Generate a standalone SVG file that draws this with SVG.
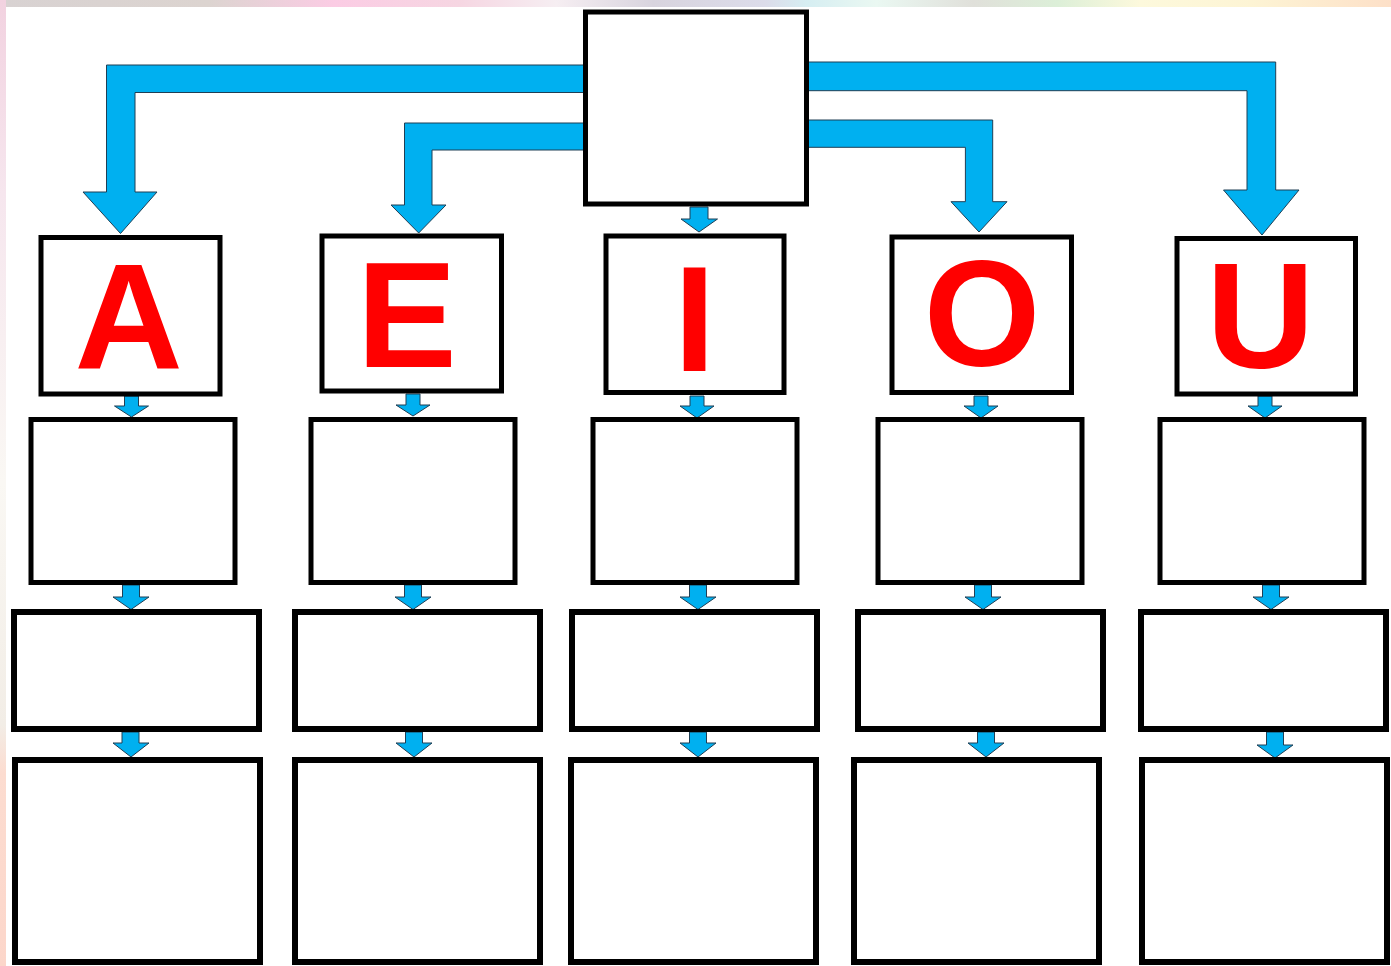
<svg xmlns="http://www.w3.org/2000/svg" width="1391" height="966" viewBox="0 0 1391 966">
  <defs>
    <linearGradient id="topStrip" x1="0" y1="0" x2="1" y2="0">
      <stop offset="0" stop-color="#d8d2d2"/>
      <stop offset="0.15" stop-color="#dcd4d0"/>
      <stop offset="0.24" stop-color="#fbcce4"/>
      <stop offset="0.33" stop-color="#f6d6e2"/>
      <stop offset="0.4" stop-color="#f6eef2"/>
      <stop offset="0.47" stop-color="#d8d4de"/>
      <stop offset="0.55" stop-color="#dcdcea"/>
      <stop offset="0.58" stop-color="#d6eef2"/>
      <stop offset="0.63" stop-color="#eaf8f2"/>
      <stop offset="0.7" stop-color="#e0e0da"/>
      <stop offset="0.76" stop-color="#dcefd8"/>
      <stop offset="0.82" stop-color="#fdf9dc"/>
      <stop offset="0.9" stop-color="#fdf4d4"/>
      <stop offset="1" stop-color="#fde0c8"/>
    </linearGradient>
    <linearGradient id="leftStrip" x1="0" y1="0" x2="0" y2="1">
      <stop offset="0" stop-color="#f2d2e0"/>
      <stop offset="0.2" stop-color="#f6e6ee"/>
      <stop offset="0.5" stop-color="#faf8f4"/>
      <stop offset="0.75" stop-color="#f2ede6"/>
      <stop offset="0.8" stop-color="#fcdcd0"/>
      <stop offset="1" stop-color="#fcd6ca"/>
    </linearGradient>
  </defs>
  <style>
    .box { fill: #ffffff; stroke: #000000; stroke-width: 5; }
    .boxw { fill: #ffffff; stroke: #000000; stroke-width: 6; }
    .arrow { fill: #00b0f0; stroke: #1f3f55; stroke-width: 1; stroke-linejoin: miter; }
    .letter { font-family: "Liberation Sans", Arial, sans-serif; font-weight: bold; font-size: 150px; fill: #ff0000; text-anchor: middle; }
  </style>

  <rect x="0" y="0" width="1391" height="966" fill="#ffffff"/>
  <rect x="0" y="0" width="1391" height="7" fill="url(#topStrip)"/>
  <rect x="0" y="0" width="6" height="966" fill="url(#leftStrip)"/>

  <g id="connectors">
    <polygon class="arrow" points="586,65 106.5,65 106.5,192 83,192 120.5,233.5 157,192 135,192 135,92.5 586,92.5"/>
    <polygon class="arrow" points="586,123 404.5,123 404.5,205 391,205 418.7,233 446,205 432,205 432,150 586,150"/>
    <polygon class="arrow" points="806,120 992.7,120 992.7,201.7 1007,201.7 979,232 951,201.7 965.4,201.7 965.4,147.3 806,147.3"/>
    <polygon class="arrow" points="806,62 1275.7,62 1275.7,190 1299,190 1262,235 1223.5,190 1247,190 1247,90.7 806,90.7"/>

    <polygon class="arrow" points="690,207 708,207 708,219 717.5,219 699,232 681,219 690,219"/>

    <polygon class="arrow" points="124.5,396 138.5,396 138.5,406 148.5,406 131.5,417 114.5,406 124.5,406"/>
    <polygon class="arrow" points="406,394 420,394 420,405 430,405 413,416 396,405 406,405"/>
    <polygon class="arrow" points="690,396 704,396 704,406 714,406 697,418 680,406 690,406"/>
    <polygon class="arrow" points="974,396 988,396 988,406 998,406 981,418 964,406 974,406"/>
    <polygon class="arrow" points="1258,396 1272,396 1272,406 1282,406 1265,418 1248,406 1258,406"/>

    <polygon class="arrow" points="122.5,585 139.5,585 139.5,597 149,597 131,609.5 113,597 122.5,597"/>
    <polygon class="arrow" points="404.5,585 421.5,585 421.5,597 431,597 413,609.5 395,597 404.5,597"/>
    <polygon class="arrow" points="689.5,585 706.5,585 706.5,597 716,597 698,609.5 680,597 689.5,597"/>
    <polygon class="arrow" points="974.5,585 991.5,585 991.5,597 1001,597 983,609.5 965,597 974.5,597"/>
    <polygon class="arrow" points="1262.5,585 1279.5,585 1279.5,597 1289,597 1271,609.5 1253,597 1262.5,597"/>

    <polygon class="arrow" points="122,732 139,732 139,743 149,743 131,757 113,743 122,743"/>
    <polygon class="arrow" points="405.5,732 422.5,732 422.5,743 432,743 414,757 396,743 405.5,743"/>
    <polygon class="arrow" points="689.5,732 706.5,732 706.5,743 716,743 698,757 680,743 689.5,743"/>
    <polygon class="arrow" points="977.5,732 994.5,732 994.5,743 1004,743 986,757 968,743 977.5,743"/>
    <polygon class="arrow" points="1266.5,732 1283.5,732 1283.5,745 1293,745 1275,758 1257,745 1266.5,745"/>
  </g>

  <g id="top"><rect class="box" x="585.5" y="12" width="221" height="192"/></g>

  <g id="vowel-a"><rect class="box" x="41" y="237.5" width="179" height="156.5"/><text class="letter" x="128.7" y="367.5">A</text></g>
  <g id="vowel-e"><rect class="box" x="322" y="236" width="179.5" height="155"/><text class="letter" x="406.7" y="366.5">E</text></g>
  <g id="vowel-i"><rect class="box" x="606" y="236" width="178" height="156.5"/><text class="letter" x="694.5" y="371">I</text></g>
  <g id="vowel-o"><rect class="box" x="892" y="237" width="179.5" height="155.5"/><text class="letter" x="982" y="366">O</text></g>
  <g id="vowel-u"><rect class="box" x="1177" y="238.5" width="178.5" height="155.5"/><text class="letter" x="1260.5" y="368">U</text></g>

  <g id="a-2"><rect class="box" x="31" y="419.5" width="204" height="163"/></g>
  <g id="e-2"><rect class="box" x="311" y="419.5" width="204" height="163"/></g>
  <g id="i-2"><rect class="box" x="593" y="419.5" width="204" height="163"/></g>
  <g id="o-2"><rect class="box" x="878" y="419.5" width="204" height="163"/></g>
  <g id="u-2"><rect class="box" x="1160" y="419.5" width="204" height="163"/></g>

  <g id="a-3"><rect class="boxw" x="14" y="612" width="245" height="117"/></g>
  <g id="e-3"><rect class="boxw" x="295" y="612" width="245" height="117"/></g>
  <g id="i-3"><rect class="boxw" x="572" y="612" width="245" height="117"/></g>
  <g id="o-3"><rect class="boxw" x="858" y="612" width="245" height="117"/></g>
  <g id="u-3"><rect class="boxw" x="1141" y="612" width="245" height="117"/></g>

  <g id="a-4"><rect class="boxw" x="15" y="760" width="245" height="202"/></g>
  <g id="e-4"><rect class="boxw" x="295" y="760" width="245" height="202"/></g>
  <g id="i-4"><rect class="boxw" x="571" y="760" width="245" height="202"/></g>
  <g id="o-4"><rect class="boxw" x="854" y="760" width="245" height="202"/></g>
  <g id="u-4"><rect class="boxw" x="1142" y="760" width="245" height="202"/></g>
</svg>
